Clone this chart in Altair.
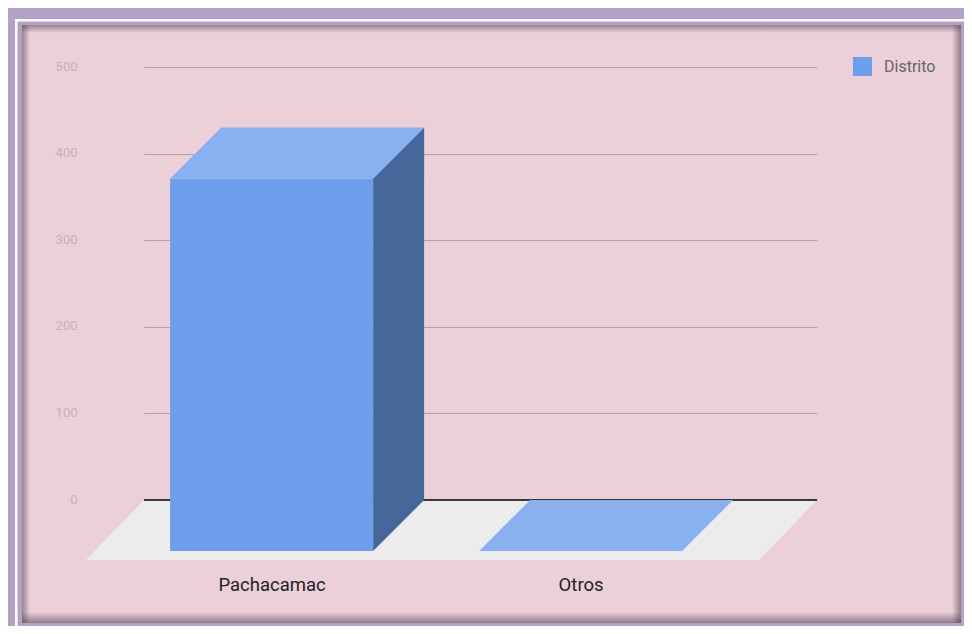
import json
import altair as alt
import pandas as pd

# ---------------- data ----------------
CATEGORIES = ["Pachacamac", "Otros"]
VALUES = [430, 0]
SERIES = "Distrito"
Y_TICKS = [0, 100, 200, 300, 400, 500]

# ---------------- layout / style ----------------
PLOT_W, PLOT_H = 673, 433
Y_MAX = 500
X_DOMAIN = [-0.078, 2.1]
UX = (X_DOMAIN[1] - X_DOMAIN[0]) / PLOT_W   # data units per px (x)
UY = Y_MAX / PLOT_H                          # data units per px (y)
DEPTH_PX = 51
FLOOR_PX_X, FLOOR_PX_Y = 58, 60
BAR_W_PX = 203

PINK = "#ebd0da"
PURPLE = "#b3a2c8"
FRONT = "#6d9eeb"
TOP = "#8ab1ef"
SIDE = "#466799"
FLOOR = "#ececec"
FONT = "Roboto"

dx = DEPTH_PX * UX
dy = DEPTH_PX * UY
half = BAR_W_PX / 2 * UX
fdx = FLOOR_PX_X * UX
fdy = FLOOR_PX_Y * UY

front_rows, top_rows, side_rows = [], [], []
for i, (cat, v) in enumerate(zip(CATEGORIES, VALUES)):
    cx = i + 0.5
    front_rows.append({"cat": cat, "serie": SERIES, "x": cx - half - dx, "x2": cx + half - dx,
                       "y": -dy, "y2": v - dy})
    top_rows.append({"cat": cat, "y": v - dy, "x": cx - half - dx, "x2": cx + half - dx})
    top_rows.append({"cat": cat, "y": v, "x": cx - half, "x2": cx + half})
    if v > 0:
        side_rows.append({"cat": cat, "x": cx + half - dx, "y": -dy, "y2": v - dy})
        side_rows.append({"cat": cat, "x": cx + half, "y": 0, "y2": v})
floor_rows = [
    {"k": "floor", "y": -fdy, "x": X_DOMAIN[0] - fdx, "x2": X_DOMAIN[1] - fdx},
    {"k": "floor", "y": 0, "x": X_DOMAIN[0], "x2": X_DOMAIN[1]},
]

label_vals = [i + 0.5 - dx for i in range(len(CATEGORIES))]
label_expr = f"{json.dumps(CATEGORIES)}[floor(datum.value + 0.01)]"

X_SCALE = alt.Scale(domain=X_DOMAIN, nice=False, zero=False)
Y_SCALE = alt.Scale(domain=[0, Y_MAX], nice=False, zero=False)
X_AXIS = alt.Axis(title=None, values=label_vals, labelExpr=label_expr, grid=False,
                  ticks=False, tickSize=0, domain=False,
                  labelFont=FONT, labelFontSize=18.5, labelColor="#222222", labelPadding=75,
                  labelFlush=False, labelOverlap=False)
Y_AXIS = alt.Axis(title=None, values=Y_TICKS, grid=True, gridColor="#b2a2a9", gridWidth=1,
                  ticks=False, tickSize=0, domain=False, labelFont=FONT, labelFontSize=13,
                  labelColor="#c0b4b9", labelPadding=67, labelFlush=False, labelOffset=-1)

floor = alt.Chart(pd.DataFrame(floor_rows)).mark_area(orient="horizontal", color=FLOOR).encode(
    y=alt.Y("y:Q", scale=Y_SCALE, axis=Y_AXIS),
    x=alt.X("x:Q", scale=X_SCALE, axis=X_AXIS),
    x2="x2:Q",
)

baseline = alt.Chart(pd.DataFrame({"y": [0]})).mark_rule(color="#000000", strokeWidth=1.5).encode(
    y=alt.Y("y:Q", scale=Y_SCALE, axis=Y_AXIS),
    x=alt.value(0),
    x2=alt.value(PLOT_W),
)

side = alt.Chart(pd.DataFrame(side_rows)).mark_area(orient="vertical", color=SIDE).encode(
    x=alt.X("x:Q", scale=X_SCALE, axis=X_AXIS),
    y=alt.Y("y:Q", scale=Y_SCALE, axis=Y_AXIS),
    y2="y2:Q",
    detail="cat:N",
)

front = alt.Chart(pd.DataFrame(front_rows)).mark_rect().encode(
    x=alt.X("x:Q", scale=X_SCALE, axis=X_AXIS),
    x2="x2:Q",
    y=alt.Y("y:Q", scale=Y_SCALE, axis=Y_AXIS),
    y2="y2:Q",
    color=alt.Color("serie:N", scale=alt.Scale(domain=[SERIES], range=[FRONT]),
                    legend=alt.Legend(title=None, orient="none", legendX=709, legendY=-10,
                                      symbolType="square", symbolSize=361, symbolStrokeWidth=0,
                                      labelFont=FONT, labelFontSize=16, labelColor="#666666",
                                      labelOffset=12, padding=0)),
)

top = alt.Chart(pd.DataFrame(top_rows)).mark_area(orient="horizontal", color=TOP).encode(
    y=alt.Y("y:Q", scale=Y_SCALE, axis=Y_AXIS),
    x=alt.X("x:Q", scale=X_SCALE, axis=X_AXIS),
    x2="x2:Q",
    detail="cat:N",
)

# ---------------- decorative frame (pixel positions relative to plot origin) ----------------
one = pd.DataFrame({"k": [0]})


def rect(x, x2, y, y2, **mk):
    return alt.Chart(one).mark_rect(**mk).encode(
        x=alt.value(x), x2=alt.value(x2), y=alt.value(y), y2=alt.value(y2))


def grad(x1, y1, x2, y2, a=0.55):
    return alt.LinearGradient(
        gradient="linear", x1=x1, y1=y1, x2=x2, y2=y2,
        stops=[alt.GradientStop(color=f"rgba(85,65,80,{a})", offset=0),
               alt.GradientStop(color="rgba(85,65,80,0)", offset=1)])


L, T, R, B = -122, -42, 817, 556      # pink panel edges
SL, ST, SR, SB = -136, -59, 820, 559  # svg edges

shadows = [
    rect(L, R, T, T + 8, fill=grad(0, 0, 0, 1)),
    rect(L, L + 8, T, B, fill=grad(0, 0, 1, 0)),
    rect(R - 9, R, T, B, fill=grad(1, 0, 0, 0, 0.6)),
    rect(L, R, B - 11, B, fill=grad(0, 1, 0, 0, 0.6)),
]
strips = [
    rect(SL, L, ST, SB, color=PURPLE),
    rect(SL, SR, ST, T, color=PURPLE),
    rect(R, SR, ST, SB, color=PURPLE),
    rect(SL, SR, B, SB, color=PURPLE),
    rect(-127.75, 900, -46.75, 600, fill="transparent", stroke="#ffffff", strokeWidth=2.5),
]

chart = alt.layer(floor, baseline, side, front, top, *shadows, *strips).properties(
    width=PLOT_W,
    height=PLOT_H,
    autosize=alt.AutoSizeParams(type="none"),
    padding={"left": 136, "top": 59, "right": 147, "bottom": 126},
).configure(background=PINK).configure_view(stroke="transparent")

chart.save("out.html", embed_options={"renderer": "svg", "actions": False})
